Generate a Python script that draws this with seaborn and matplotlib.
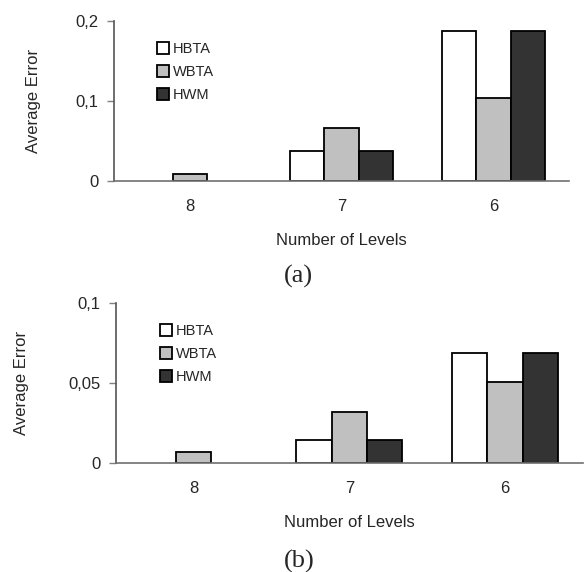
import numpy as np
import pandas as pd
import matplotlib
matplotlib.use("Agg")
from matplotlib import pyplot as plt
import seaborn as sns

sns.set_style('white')
plt.rcParams['font.family'] = ['Liberation Sans', 'DejaVu Sans']

# data
levels = ['8', '7', '6']
methods = ['HBTA', 'WBTA', 'HWM']
err_a = {'HBTA': [0.0, 0.0375, 0.1875],
         'WBTA': [0.009, 0.066, 0.104],
         'HWM': [0.0, 0.0375, 0.1875]}
err_b = {'HBTA': [0.0, 0.0144, 0.0688],
         'WBTA': [0.0069, 0.032, 0.0506],
         'HWM': [0.0, 0.0144, 0.0688]}
yticks_a = [0, 0.1, 0.2]
yticklabels_a = ['0', '0,1', '0,2']
yticks_b = [0, 0.05, 0.1]
yticklabels_b = ['0', '0,05', '0,1']
colors = ['#ffffff', '#c0c0c0', '#333333']


def to_long(err):
    rows = []
    for m in methods:
        for lev, v in zip(levels, err[m]):
            rows.append({'level': lev, 'method': m, 'err': v})
    return pd.DataFrame(rows)


def draw_panel(ax, err, yticks, yticklabels, ylab_x, leg_anchor):
    df = to_long(err)
    sns.barplot(data=df, x='level', y='err', hue='method', order=levels,
                hue_order=methods, palette=colors, edgecolor='black',
                linewidth=1.3, width=0.68, ax=ax, saturation=1)
    # zero-height bars should not leave a black line on the axis
    for cont in ax.containers:
        for p in cont:
            if p.get_height() == 0:
                p.set_linewidth(0)
    ax.set_xlim(-0.5, 2.5)
    ax.set_ylim(0, yticks[-1])
    ax.set_yticks(yticks)
    ax.set_yticklabels(yticklabels, fontsize=12)
    ax.set_xticks(range(len(levels)))
    ax.set_xticklabels(levels, fontsize=12)
    ax.set_xticks([0.5, 1.5, 2.5], minor=True)
    ax.tick_params(axis='x', which='major', length=0, pad=13)
    ax.tick_params(axis='x', which='minor', length=4, width=1, color='#808080',
                   direction='out')
    ax.tick_params(axis='y', which='major', length=5, width=1, color='#808080',
                   direction='out', left=True, pad=6)
    sns.despine(ax=ax)
    ax.spines['left'].set_color('#555555')
    ax.spines['left'].set_linewidth(1.2)
    ax.spines['bottom'].set_color('#707070')
    ax.spines['bottom'].set_linewidth(1.2)
    ax.set_xlabel('Number of Levels', fontsize=12)
    ax.xaxis.set_label_coords(0.5, -0.375)
    ax.xaxis.label.set_va('center')
    ax.set_ylabel('Average Error', fontsize=12)
    ax.yaxis.set_label_coords(ylab_x, 0.5)
    ax.yaxis.label.set_va('center')
    handles, labels = ax.get_legend_handles_labels()
    leg = ax.legend(handles, labels, loc='upper left', bbox_to_anchor=leg_anchor,
                    frameon=False, fontsize=10.5, handlelength=0.85,
                    handleheight=0.85, handletextpad=0.25, labelspacing=0.62,
                    borderaxespad=0, borderpad=0)
    for h in leg.legend_handles:
        h.set_edgecolor('black')
        h.set_linewidth(1.3)


fig = plt.figure(figsize=(5.88, 5.72), dpi=100)
ax1 = fig.add_axes([0.194, 0.6836, 0.774, 0.2797])
ax2 = fig.add_axes([0.197, 0.1906, 0.794, 0.2797])
draw_panel(ax1, err_a, yticks_a, yticklabels_a, -81 / 455, (0.094, 0.87))
draw_panel(ax2, err_b, yticks_b, yticklabels_b, -94 / 467, (0.094, 0.87))

serif = ['Liberation Serif', 'DejaVu Serif']
fig.text(298 / 588, 1 - 276 / 572, '(a)', ha='center', va='center',
         fontsize=19, family=serif)
fig.text(299 / 588, 1 - 561 / 572, '(b)', ha='center', va='center',
         fontsize=19, family=serif)

plt.savefig('out.png', dpi=100)
